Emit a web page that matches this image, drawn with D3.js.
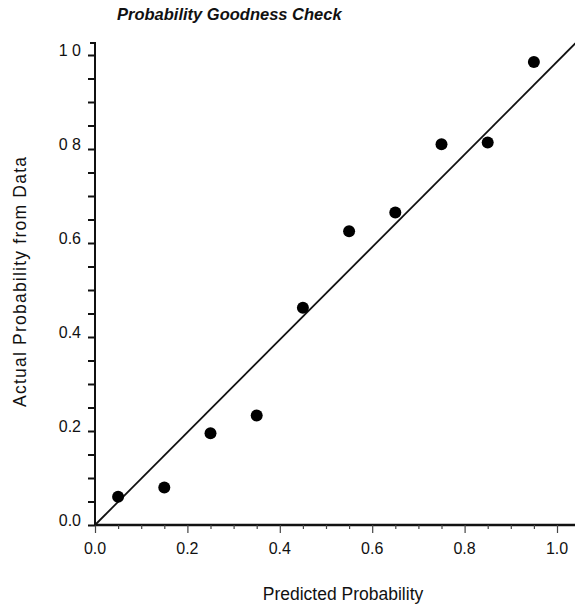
<!DOCTYPE html>
<html>
<head>
<meta charset="utf-8">
<script src="https://cdn.jsdelivr.net/npm/d3@7"></script>
<style>
  body { margin: 0; background: #fff; }
  text { font-family: "Liberation Sans", Arial, sans-serif; fill: #111; }
</style>
</head>
<body>
<script>
// predicted vs actual probability
var predicted = [0.05, 0.15, 0.25, 0.35, 0.45, 0.55, 0.65, 0.75, 0.85, 0.95];
var actual    = [0.06, 0.08, 0.195, 0.233, 0.462, 0.625, 0.665, 0.81, 0.814, 0.985];
var xTicks = [0, 0.2, 0.4, 0.6, 0.8, 1.0];
var yTicks = [0, 0.2, 0.4, 0.6, 0.8, 1.0];
var xTickLabels = ["0.0", "0.2", "0.4", "0.6", "0.8", "1.0"];
var yTickLabels = ["0.0", "0.2", "0.4", "0.6", "0 8", "1 0"];

(function()
{
    var w = 575, h = 605;
    var x = d3.scaleLinear().domain([0, 1]).range([95, 557]);
    var y = d3.scaleLinear().domain([0, 1]).range([525, 55]);

    var svg = d3.select("body").append("svg")
        .attr("width", w)
        .attr("height", h);

    // axes lines
    svg.append("line")
        .attr("x1", x(0)).attr("x2", w)
        .attr("y1", y(0)).attr("y2", y(0))
        .attr("stroke", "#111").attr("stroke-width", 2.5);
    svg.append("path")
        .attr("d", "M" + x(0) + "," + y(0) + "V" + (y(1) - 12) + "h-5")
        .attr("fill", "none")
        .attr("stroke", "#111").attr("stroke-width", 2);

    // y ticks, minor every 0.05
    var yAxis = d3.axisLeft(y)
        .tickValues(d3.range(0, 1.0001, 0.05))
        .tickSize(7)
        .tickFormat("");
    var gy = svg.append("g").attr("transform", "translate(" + x(0) + ",0)").call(yAxis);
    gy.select(".domain").remove();
    gy.selectAll(".tick line").attr("stroke", "#111").attr("stroke-width", 2);

    svg.selectAll(".ylab")
        .data(yTicks)
        .enter()
        .append("text")
        .attr("class", "ylab")
        .attr("x", x(0) - 14)
        .attr("y", function(d) { return y(d) + 1; })
        .attr("text-anchor", "end")
        .attr("font-size", "16px")
        .text(function(d, i) { return yTickLabels[i]; });

    // x ticks
    var xAxis = d3.axisBottom(x)
        .tickValues(d3.range(0, 1.0001, 0.05))
        .tickSize(4)
        .tickFormat("");
    var gx = svg.append("g").attr("transform", "translate(0," + y(0) + ")").call(xAxis);
    gx.select(".domain").remove();
    gx.selectAll(".tick line")
        .attr("stroke", "#444")
        .attr("stroke-width", 1.2)
        .attr("y2", function(d) { return Math.abs(d * 5 - Math.round(d * 5)) < 0.001 ? 8 : 4; });

    svg.selectAll(".xlab")
        .data(xTicks)
        .enter()
        .append("text")
        .attr("class", "xlab")
        .attr("x", function(d) { return x(d); })
        .attr("y", y(0) + 29)
        .attr("text-anchor", "middle")
        .attr("font-size", "16px")
        .text(function(d, i) { return xTickLabels[i]; });

    // reference line y = x
    svg.append("line")
        .attr("x1", x(0)).attr("y1", y(0))
        .attr("x2", x(1.04)).attr("y2", y(1.025))
        .attr("stroke", "#111").attr("stroke-width", 1.8);

    // points
    svg.selectAll("circle")
        .data(predicted)
        .enter()
        .append("circle")
        .attr("cx", function(d) { return x(d); })
        .attr("cy", function(d, i) { return y(actual[i]); })
        .attr("r", 6)
        .attr("fill", "#000");

    // titles
    svg.append("text")
        .attr("x", 117).attr("y", 20)
        .attr("font-size", "16.5px")
        .attr("font-style", "italic")
        .attr("font-weight", "bold")
        .text("Probability Goodness Check");

    svg.append("text")
        .attr("x", 343).attr("y", 600)
        .attr("text-anchor", "middle")
        .attr("font-size", "17.5px")
        .text("Predicted Probability");

    svg.append("text")
        .attr("transform", "translate(26,282) rotate(-90)")
        .attr("text-anchor", "middle")
        .attr("font-size", "17.5px")
        .attr("textLength", 250)
        .text("Actual Probability from Data");
})();
</script>
</body>
</html>
